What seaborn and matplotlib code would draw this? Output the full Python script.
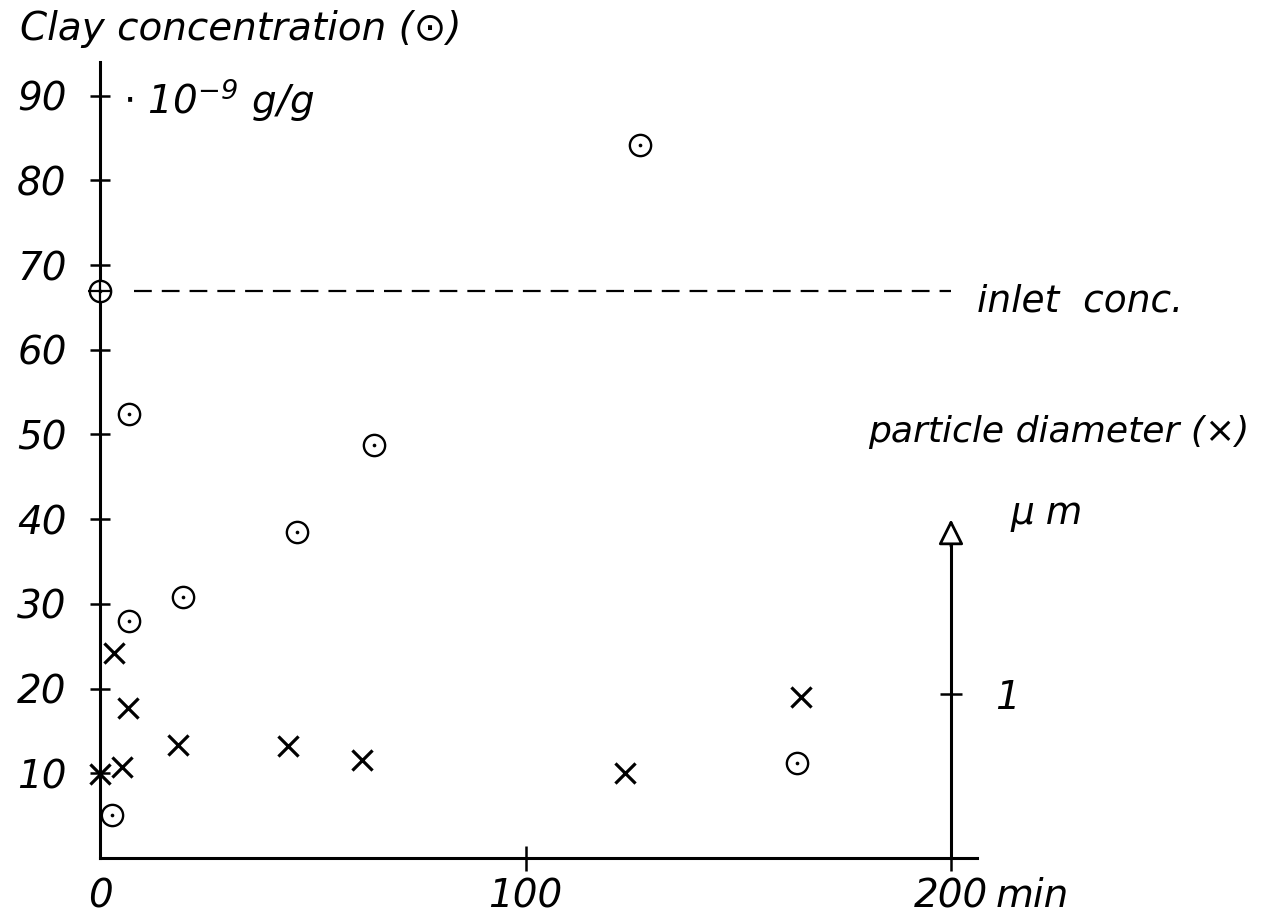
import matplotlib
matplotlib.use("Agg")
import matplotlib.pyplot as plt
import seaborn as sns
import pandas as pd

# ---- data ----
clay_time = [0, 2.8, 6.8, 6.8, 19.5, 46.3, 64.4, 127, 163.8]          # min
clay_conc = [67, 5.1, 28.0, 52.4, 30.8, 38.5, 48.8, 84.2, 11.2]      # 1e-9 g/g
diam_time = [0, 3.3, 5.2, 6.6, 18.3, 44.2, 61.6, 123.4, 164.7]       # min
diam_um = [0.51, 1.25, 0.555, 0.915, 0.69, 0.68, 0.60, 0.52, 0.98]   # micrometre
inlet_conc = 67
inlet_time = [0]
inlet_span = [8, 200]
y_ticks = [10, 20, 30, 40, 50, 60, 70, 80, 90]
x_ticks = [0, 100, 200]
x_tick_labels = ["0", "100", "200"]
diam_ticks = [1]

clay_df = pd.DataFrame({"time": clay_time, "conc": clay_conc})
diam_df = pd.DataFrame({"time": diam_time, "diam": diam_um})
inlet_df = pd.DataFrame({"time": inlet_time, "conc": [inlet_conc]})

sns.set_style("white")
plt.rcParams["font.family"] = ["DejaVu Sans"]
plt.rcParams["font.style"] = "italic"
plt.rcParams["mathtext.fontset"] = "dejavusans"
plt.rcParams["mathtext.default"] = "it"
for k in ["text.color", "xtick.color", "ytick.color", "axes.labelcolor",
          "axes.edgecolor"]:
    plt.rcParams[k] = "black"

W, H = 1264, 923
fig = plt.figure(figsize=(W / 100, H / 100), dpi=100)
px_min, px_unit = 4.255, 8.47
xmax, ymax = 210, 100
ax = fig.add_axes([100 / W, (H - 858) / H, px_min * xmax / W, px_unit * ymax / H])
ax.set_xlim(0, xmax)
ax.set_ylim(0, ymax)
ax.patch.set_alpha(0)

for s in ["top", "right"]:
    ax.spines[s].set_visible(False)
for s in ["left", "bottom"]:
    ax.spines[s].set_linewidth(2.2)
    ax.spines[s].set_color("black")
ax.spines["left"].set_bounds(0, 94)
ax.spines["bottom"].set_bounds(0, 206)

ax.set_yticks(y_ticks)
ax.set_yticklabels([str(v) for v in y_ticks])
ax.set_xticks(x_ticks)
ax.set_xticklabels(x_tick_labels)
ax.tick_params(axis="y", direction="inout", length=14, width=1.8, pad=17,
               labelsize=28, left=True, colors="black")
ax.tick_params(axis="x", direction="inout", length=18, width=1.8, pad=5,
               labelsize=28, bottom=True, colors="black")
ax.xaxis.get_major_ticks()[0].tick1line.set_visible(False)

# inlet concentration dashed line
ax.hlines(inlet_conc, inlet_span[0], inlet_span[1], colors="black",
          linewidth=1.6, linestyles=(0, (8, 4.5)))

# clay concentration: circles with central dot
sns.scatterplot(data=clay_df, x="time", y="conc", marker="o", s=235,
                facecolor="white", edgecolor="black", linewidth=1.7,
                clip_on=False, zorder=5, ax=ax, legend=False)
sns.scatterplot(data=clay_df, x="time", y="conc", marker="o", s=7,
                color="black", linewidth=0, clip_on=False, zorder=6,
                ax=ax, legend=False)
sns.scatterplot(data=inlet_df, x="time", y="conc", marker="+", s=300,
                color="black", linewidth=1.6, clip_on=False, zorder=7,
                ax=ax, legend=False)
ax.set_xlabel("")
ax.set_ylabel("")

# secondary (particle diameter) axis at t = 200 min
ratio = 164 / px_unit  # left units per micrometre
ax2 = ax.twinx()
ax2.set_ylim(0, ymax / ratio)
for s in ["left", "top", "bottom"]:
    ax2.spines[s].set_visible(False)
ax2.spines["right"].set_position(("data", 200))
ax2.spines["right"].set_linewidth(2.2)
ax2.spines["right"].set_color("black")
ax2.spines["right"].set_bounds(0, 1.98)
ax2.set_yticks(diam_ticks)
ax2.set_yticklabels([str(v) for v in diam_ticks])
ax2.tick_params(axis="y", direction="inout", length=16, width=1.8, pad=24,
                labelsize=28, right=True, colors="black")
ax2.annotate("", xy=(200, 2.065), xytext=(200, 1.9),
             arrowprops=dict(arrowstyle="-|>,head_length=0.7,head_width=0.35",
                             fc="white", ec="black", lw=2.0,
                             mutation_scale=22, shrinkA=0, shrinkB=0))

sns.scatterplot(data=diam_df, x="time", y="diam", marker="x", s=210,
                color="black", linewidth=2.3, clip_on=False, zorder=5,
                ax=ax2, legend=False)
ax2.set_xlabel("")
ax2.set_ylabel("")

# annotations
fig.text(20 / W, 1 - 40 / H, "Clay concentration (\u2299)", fontsize=28,
         ha="left", va="baseline")
ax.text(5.5, 87.8, r"$\cdot\ 10^{-9}\ g/g$", fontsize=28, ha="left",
        va="baseline")
fig.text(977 / W, 1 - 311 / H, "inlet  conc.", fontsize=27, ha="left",
         va="baseline")
fig.text(868 / W, 1 - 442 / H, "particle diameter (\u00d7)", fontsize=26,
         ha="left", va="baseline")
fig.text(1010 / W, 1 - 524 / H, "\u00b5 m", fontsize=27, ha="left",
         va="baseline")
ax.annotate("min", xy=(200, 0), xycoords="data", xytext=(32, -14),
            textcoords="offset points", fontsize=28, ha="left", va="top",
            annotation_clip=False)

fig.savefig("out.png", dpi=100)
